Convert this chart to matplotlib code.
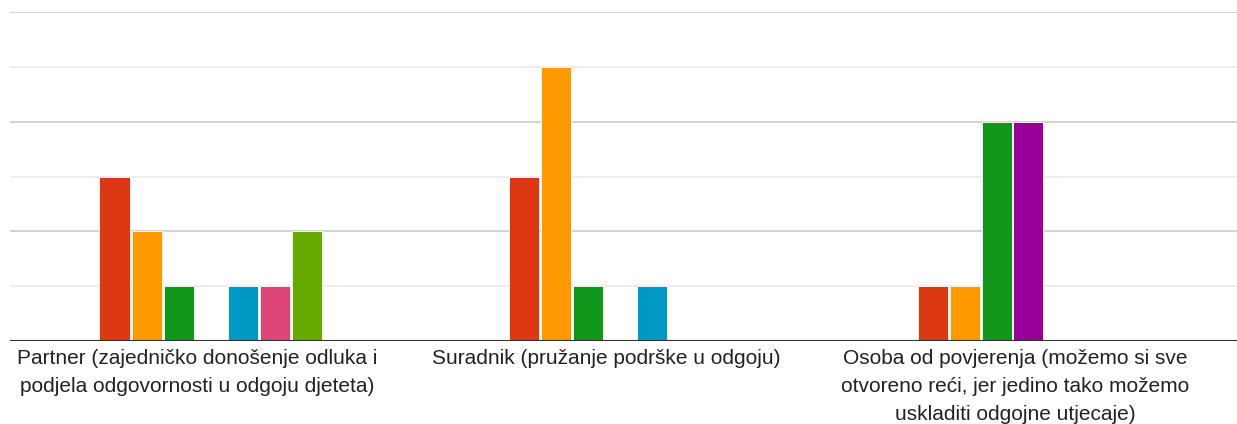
import matplotlib.pyplot as plt
import numpy as np

plt.rcParams['font.family'] = ['Liberation Sans', 'DejaVu Sans']

# categories (x axis) and per-series counts
categories = [
    "Partner (zajedničko donošenje odluka i\npodjela odgovornosti u odgoju djeteta)",
    "Suradnik (pružanje podrške u odgoju)",
    "Osoba od povjerenja (možemo si sve\notvoreno reći, jer jedino tako možemo\nuskladiti odgojne utjecaje)",
]
series_1 = [3, 3, 1]
series_2 = [2, 5, 1]
series_3 = [1, 1, 4]
series_4 = [0, 0, 4]
series_5 = [1, 1, 0]
series_6 = [1, 0, 0]
series_7 = [2, 0, 0]

series = [series_1, series_2, series_3, series_4, series_5, series_6, series_7]
colors = ['#dc3912', '#ff9900', '#109618', '#990099', '#0099c6', '#dd4477', '#66aa00']

fig = plt.figure(figsize=(12.37, 4.24), dpi=100)
ax = fig.add_axes([10 / 1237, 1 - 341 / 424, 1 - 10 / 1237, (341 - 12) / 424])

x = np.arange(len(categories))
slot = 32 / 409
width = 30 / 409
shift = -4 / 409
n = len(series)
for i, vals in enumerate(series):
    offs = (i - (n - 1) / 2) * slot + shift
    ax.bar(x + offs, vals, width, color=colors[i], edgecolor='white',
           linewidth=0.6, zorder=3)

ax.set_xlim(-0.5, 2.5)
ax.set_ylim(0, 6)

# gridlines: darker at even values, lighter at odd
for v in range(1, 7):
    c = '#cccccc' if v % 2 == 0 else '#ebebeb'
    ax.axhline(v, color=c, linewidth=1.2, zorder=1)
ax.axhline(0, color='#333333', linewidth=1.5, zorder=4)

for s in ax.spines.values():
    s.set_visible(False)
ax.set_xticks([])
ax.set_yticks([])

for i, lab in enumerate(categories):
    ax.text(x[i] - 17 / 409, -0.15, lab, ha='center', va='top', fontsize=15,
            color='#222222', linespacing=1.6)

fig.savefig('out.png', dpi=100)
